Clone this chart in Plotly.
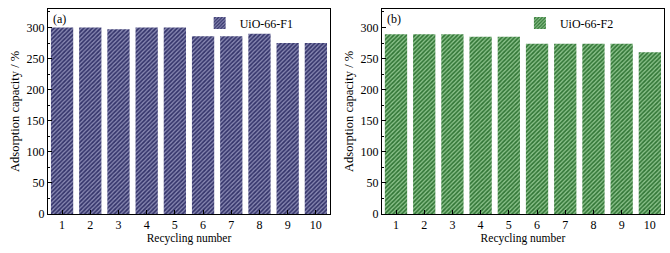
import plotly.graph_objects as go

cycles = [1, 2, 3, 4, 5, 6, 7, 8, 9, 10]
f1_values = [300, 300, 297, 300, 300, 286, 286, 290, 275, 275]
f2_values = [289, 289, 289, 285, 285, 274, 274, 274, 274, 260]
y_ticks = [0, 50, 100, 150, 200, 250, 300]

FONT = "Liberation Serif, Times New Roman, serif"

fig = go.Figure()
fig.add_trace(go.Bar(
    x=cycles, y=f1_values, name="UiO-66-F1", xaxis="x", yaxis="y", legend="legend",
    width=0.79, showlegend=True,
    marker=dict(color="#6a6a9a", line=dict(width=0),
                pattern=dict(shape="/", fgcolor="#34346a", bgcolor="#8a8ab4", size=3, solidity=0.55, fillmode="replace")),
))
fig.add_trace(go.Bar(
    x=cycles, y=f2_values, name="UiO-66-F2", xaxis="x2", yaxis="y2", legend="legend2",
    width=0.79, showlegend=True,
    marker=dict(color="#84bc84", line=dict(width=0),
                pattern=dict(shape="/", fgcolor="#327636", bgcolor="#8ec48e", size=3, solidity=0.55, fillmode="replace")),
))

axis_common = dict(showline=True, linecolor="black", linewidth=1.2, mirror=True,
                   ticks="inside", tickcolor="black", ticklen=4, showgrid=False, zeroline=False,
                   tickfont=dict(family=FONT, size=12, color="black"))

xcommon = dict(axis_common, range=[0.5, 10.5], tickvals=cycles,
               title=dict(text="Recycling number", font=dict(family=FONT, size=11.5, color="black"), standoff=2))
ycommon = dict(axis_common, range=[0, 330], tickvals=y_ticks,
               minor=dict(ticks="inside", ticklen=2, tickcolor="black", dtick=25),
               title=dict(text="Adsorption capacity / %", font=dict(family=FONT, size=12.5, color="black"), standoff=4))

fig.update_layout(
    width=670, height=253,
    margin=dict(l=0, r=0, t=0, b=0),
    paper_bgcolor="white", plot_bgcolor="white",
    showlegend=True,
    xaxis=dict(xcommon, domain=[0.0716, 0.4925], anchor="y"),
    yaxis=dict(ycommon, domain=[0.1304, 0.964], anchor="x"),
    xaxis2=dict(xcommon, domain=[0.570, 0.991], anchor="y2"),
    yaxis2=dict(ycommon, domain=[0.1304, 0.964], anchor="x2"),
    bargap=0.21,
    legend=dict(x=0.298, y=0.965, xanchor="left", yanchor="top", bgcolor="rgba(0,0,0,0)",
                font=dict(family=FONT, size=12, color="black")),
    legend2=dict(x=0.776, y=0.965, xanchor="left", yanchor="top", bgcolor="rgba(0,0,0,0)",
                 font=dict(family=FONT, size=12, color="black")),
    annotations=[
        dict(text="(a)", x=0.5, y=328, xref="x", yref="y", xanchor="left", yanchor="top",
             showarrow=False, xshift=3, font=dict(family=FONT, size=12, color="black")),
        dict(text="(b)", x=0.5, y=328, xref="x2", yref="y2", xanchor="left", yanchor="top",
             showarrow=False, xshift=3, font=dict(family=FONT, size=12, color="black")),
    ],
)

fig.write_html("out.html", config={"displayModeBar": False},
               post_script="document.body.style.margin='0';")
